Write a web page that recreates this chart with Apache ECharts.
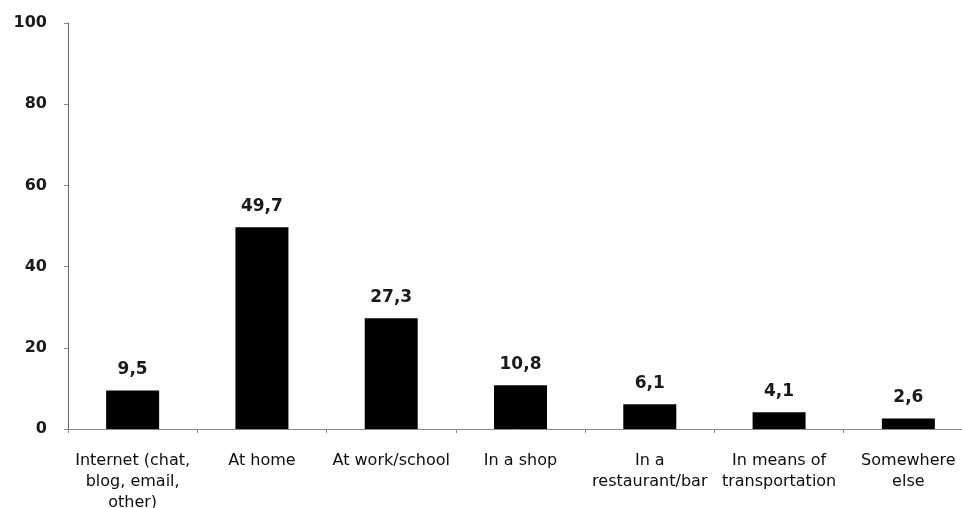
<!DOCTYPE html>
<html>
<head>
<meta charset="utf-8">
<script src="https://cdn.jsdelivr.net/npm/echarts@6/dist/echarts.min.js"></script>
<style>html,body{margin:0;padding:0;background:#fff;overflow:hidden;}#c{width:962px;height:508px;}</style>
</head>
<body>
<div id="c"></div>
<script>
const categories = ["Internet (chat,\nblog, email,\nother)", "At home", "At work/school", "In a shop", "In a\nrestaurant/bar", "In means of\ntransportation", "Somewhere\nelse"];
const values = [9.5, 49.7, 27.3, 10.8, 6.1, 4.1, 2.6];
const yTicks = [0, 20, 40, 60, 80, 100];

const chart = echarts.init(document.getElementById('c'), null, {renderer: 'canvas'});
chart.setOption({
  animation: false,
  backgroundColor: '#ffffff',
  grid: {left: 68, top: 23, bottom: 79, width: 905, containLabel: false, outerBoundsMode: 'none'},
  xAxis: {
    type: 'category',
    data: categories,
    axisLine: {lineStyle: {color: '#8a8a8a', width: 1}},
    axisTick: {show: true, length: 4, lineStyle: {color: '#8a8a8a'}},
    axisLabel: {interval: 0, margin: 21, color: '#0d0d0d', fontFamily: 'DejaVu Sans', fontSize: 16, lineHeight: 21}
  },
  yAxis: {
    type: 'value',
    min: yTicks[0],
    max: yTicks[yTicks.length - 1],
    interval: 20,
    axisLine: {show: true, lineStyle: {color: '#666', width: 1}},
    axisTick: {show: true, length: 4, lineStyle: {color: '#8a8a8a'}},
    splitLine: {show: false},
    axisLabel: {margin: 21, color: '#1a1a1a', fontFamily: 'DejaVu Sans', fontWeight: 'bold', fontSize: 16}
  },
  series: [{
    type: 'bar',
    data: values,
    barWidth: '41%',
    itemStyle: {color: '#000'},
    label: {
      show: true, position: 'top', distance: 12,
      color: '#1a1a1a', fontFamily: 'DejaVu Sans', fontWeight: 'bold', fontSize: 17,
      formatter: p => String(p.value).replace('.', ',')
    }
  }]
});
</script>
</body>
</html>
